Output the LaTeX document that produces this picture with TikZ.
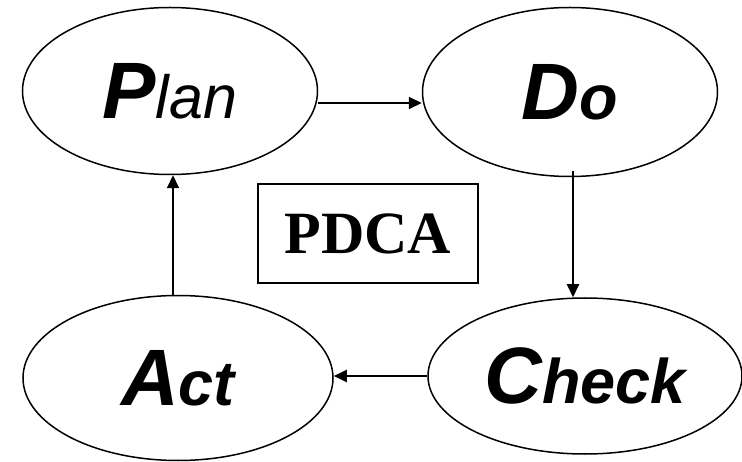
\documentclass[tikz,border=0pt]{standalone}
\usepackage{fontspec}
\setmainfont{Liberation Serif}
\setsansfont{Liberation Sans}
\usetikzlibrary{shapes.geometric,arrows.meta}

% letter sizes for the cycle labels
\newcommand{\stageinitial}[1]{{\sffamily\bfseries\itshape\fontsize{80}{80}\selectfont #1}}
\newcommand{\stagerestbold}[1]{{\sffamily\bfseries\itshape\fontsize{63}{63}\selectfont #1}}
\newcommand{\stagerestplain}[1]{{\sffamily\itshape\fontsize{61}{61}\selectfont #1}}

\tikzset{
  stage/.style={draw=black, line width=1.5pt, ellipse, inner sep=0pt, fill=white},
  flow/.style={draw=black, line width=2pt, -{Triangle[length=13pt,width=12pt]}},
  titlebox/.style={draw=black, line width=1.5pt, inner sep=0pt,
                   minimum width=220pt, minimum height=99pt,
                   font=\bfseries\fontsize{60}{60}\selectfont}
}

\begin{document}
\begin{tikzpicture}[x=1pt, y=-1pt]
  \useasboundingbox (0,0) rectangle (742,462);

  % the four stages of the cycle
  \node[stage, minimum width=295pt, minimum height=167pt] (plan) at (170,91)
    {\stageinitial{P}\stagerestplain{lan}};
  \node[stage, minimum width=295pt, minimum height=169pt] (do) at (570,92)
    {\stageinitial{D}\stagerestbold{o}};
  \node[stage, minimum width=310pt, minimum height=165pt] (act) at (178,378)
    {\stageinitial{A}\stagerestbold{ct}};
  \node[stage, minimum width=314pt, minimum height=156pt] (check) at (585,376)
    {\stageinitial{C}\stagerestbold{heck}};

  % title in the middle
  \node[titlebox] (title) at (368,233.5) {PDCA};

  % arrows around the cycle
  \draw[flow] ([yshift=-12pt]plan.east) -- ([yshift=-11pt]do.west);
  \draw[flow] ([xshift=3pt,yshift=6pt]do.south) -- ([xshift=-12pt]check.north);
  \draw[flow] (check.west) -- ([yshift=2pt]act.east);
  \draw[flow] ([xshift=-5pt]act.north) -- ([xshift=3pt]plan.south);
\end{tikzpicture}
\end{document}
